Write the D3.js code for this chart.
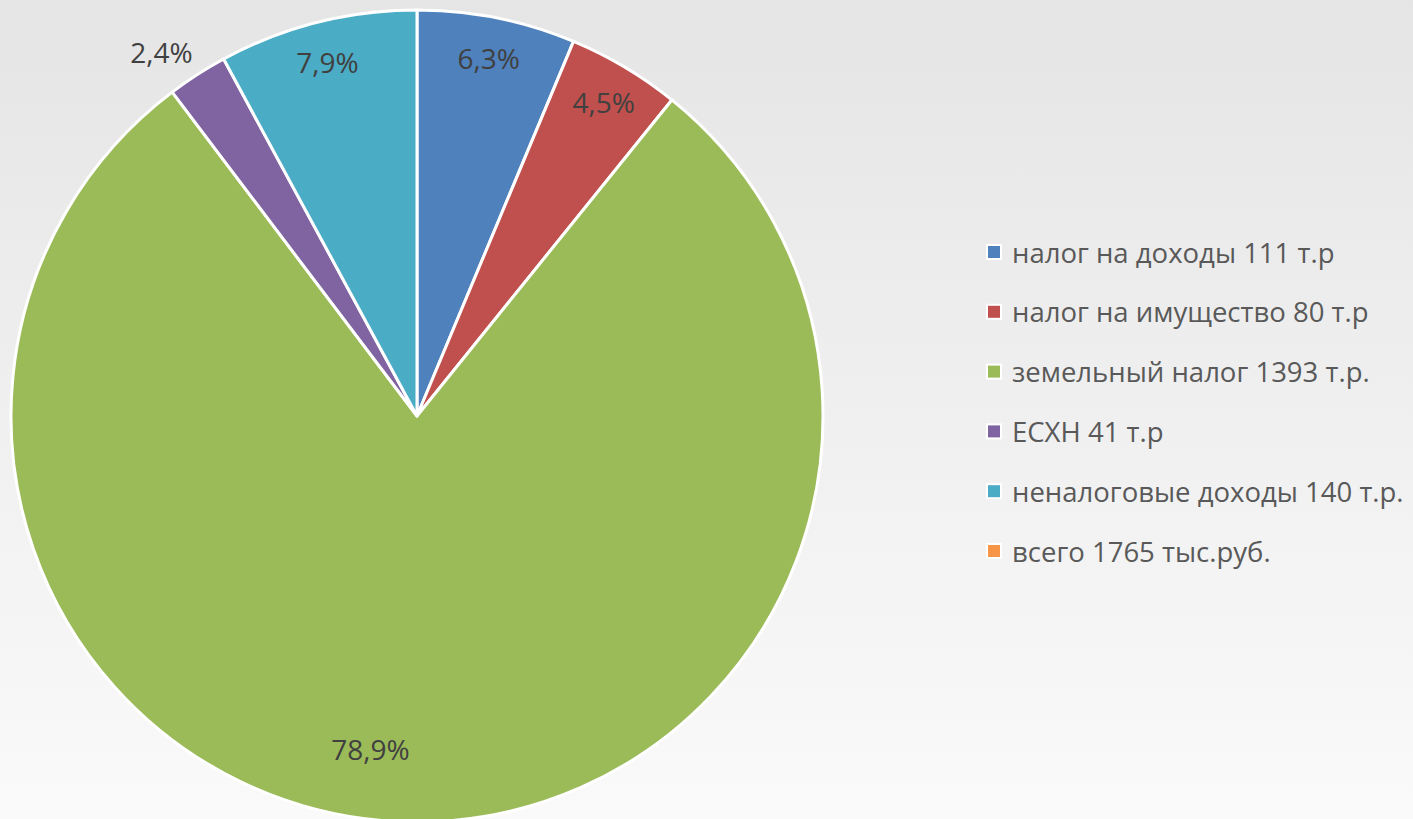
<!DOCTYPE html>
<html>
<head>
<meta charset="utf-8">
<script src="https://cdn.jsdelivr.net/npm/d3@7"></script>
<style>
  html, body { margin: 0; padding: 0; overflow: hidden; }
  svg { display: block; }
</style>
</head>
<body>
<script>
// Данные диаграммы
const categories = ["налог на доходы 111 т.р", "налог на имущество 80 т.р", "земельный налог 1393 т.р.",
                    "ЕСХН 41 т.р", "неналоговые доходы 140 т.р.", "всего 1765 тыс.руб."];
const shares = [6.3, 4.5, 78.9, 2.4, 7.9, 0];
const shareLabels = ["6,3%", "4,5%", "78,9%", "2,4%", "7,9%", ""];
const colors = ["#4F81BD", "#C0504D", "#9BBB59", "#8064A2", "#4BACC6", "#F79646"];

const width = 1413, height = 819;
const font = "'Open Sans', 'Noto Sans', sans-serif";

const svg = d3.select("body").append("svg")
  .attr("width", width)
  .attr("height", height);

// фон - градиент
const grad = svg.append("defs").append("linearGradient")
  .attr("id", "bg").attr("x1", 0).attr("y1", 0).attr("x2", 0).attr("y2", 1);
grad.append("stop").attr("offset", "0%").attr("stop-color", "#e5e5e5");
grad.append("stop").attr("offset", "100%").attr("stop-color", "#fafafa");
svg.append("rect").attr("width", width).attr("height", height).attr("fill", "url(#bg)");

const cx = 417, cy = 416, radius = 406;
const data = categories.map((c, i) => ({ name: c, value: shares[i], label: shareLabels[i], color: colors[i] }));

const pie = d3.pie().sort(null).value(d => d.value);
const arc = d3.arc().innerRadius(0).outerRadius(radius);
const labelArc = d3.arc().innerRadius(365).outerRadius(365);

const g = svg.append("g").attr("transform", `translate(${cx},${cy})`);
const arcs = pie(data).filter(d => d.value > 0);

g.selectAll("path")
  .data(arcs)
  .enter()
  .append("path")
  .attr("d", arc)
  .attr("fill", d => d.data.color)
  .attr("stroke", "#fff")
  .attr("stroke-width", 3)
  .attr("stroke-linejoin", "round");

// точка на окружности радиуса r со сдвигом угла
const polar = (d, r, shift) => {
  const a = (d.startAngle + d.endAngle) / 2 + shift;
  return [Math.sin(a) * r, -Math.cos(a) * r];
};

// подписи процентов
g.selectAll("text.pct")
  .data(arcs)
  .enter()
  .append("text")
  .attr("class", "pct")
  .attr("transform", d => {
    let p;
    if (d.data.value < 3) p = polar(d, 445, -0.04);       // маленький сектор - подпись снаружи
    else if (d.data.value > 50) p = polar(d, 336, 0.123); // большой сектор
    else p = labelArc.centroid(d);
    return `translate(${p[0]},${p[1]})`;
  })
  .attr("text-anchor", "middle")
  .attr("dominant-baseline", "central")
  .attr("font-family", font)
  .attr("font-size", 28)
  .attr("fill", "#404040")
  .text(d => d.data.label);

// легенда
const legend = svg.append("g").attr("transform", "translate(987,252)");
const rowH = 59.8;
const items = legend.selectAll("g")
  .data(data)
  .enter()
  .append("g")
  .attr("transform", (d, i) => `translate(0,${i * rowH})`);
items.append("rect")
  .attr("x", 0).attr("y", -7)
  .attr("width", 14).attr("height", 14)
  .attr("fill", d => d.color)
  .attr("stroke", "#fff")
  .attr("stroke-width", 2);
items.append("text")
  .attr("x", 25)
  .attr("y", 0)
  .attr("dominant-baseline", "central")
  .attr("font-family", font)
  .attr("font-size", 27.5)
  .attr("fill", "#595959")
  .text(d => d.name);
</script>
</body>
</html>
